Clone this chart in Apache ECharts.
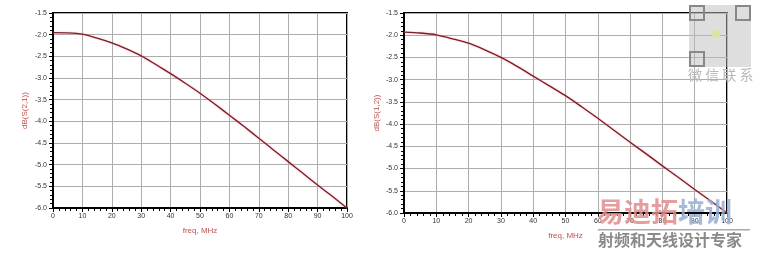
<!DOCTYPE html>
<html>
<head>
<meta charset="utf-8">
<script src="https://cdn.jsdelivr.net/npm/echarts@6/dist/echarts.min.js"></script>
<style>
html,body{margin:0;padding:0;background:#fff;}
#c{width:757px;height:256px;}
</style>
</head>
<body>
<div id="c"></div>
<script>
const freq = [0,5,10,15,20,25,30,35,40,45,50,55,60,65,70,75,80,85,90,95,100];
const s21 = [-1.955,-1.96,-1.99,-2.08,-2.19,-2.33,-2.49,-2.69,-2.90,-3.12,-3.35,-3.60,-3.86,-4.12,-4.39,-4.66,-4.93,-5.20,-5.47,-5.73,-6.0];
const s12 = [-1.93,-1.95,-1.99,-2.08,-2.18,-2.33,-2.50,-2.70,-2.92,-3.14,-3.36,-3.61,-3.87,-4.14,-4.41,-4.67,-4.94,-5.20,-5.47,-5.73,-6.0];
const yTitles = ['dB(S(2,1))','dB(S(1,2))'];
const xTitle = 'freq, MHz';

const font = 'Liberation Sans, Arial, sans-serif';
const lineColor = '#7a1c2c';
const titleColor = '#c0504d';

function xAxis(gi, gap){
  return {
    gridIndex: gi, type:'value', min:0, max:100, interval:10,
    name: xTitle, nameLocation:'middle', nameGap: gap,
    nameTextStyle:{color:titleColor,fontSize:8,fontFamily:font},
    axisLine:{show:true,onZero:false,lineStyle:{color:'#000',width:2}},
    axisTick:{show:true,length:4,lineStyle:{color:'#000',width:1}},
    minorTick:{show:true,splitNumber:5,length:3,lineStyle:{color:'#000',width:1}},
    axisLabel:{fontSize:7,color:'#333',margin:5,fontFamily:font},
    splitLine:{show:true,lineStyle:{color:'#adadad',width:1}}
  };
}
function yAxis(gi, name, gap){
  return {
    gridIndex: gi, type:'value', min:-6, max:-1.5, interval:0.5,
    name: name, nameLocation:'middle', nameGap: gap,
    nameTextStyle:{color:titleColor,fontSize:8,fontFamily:font},
    axisLine:{show:true,onZero:false,lineStyle:{color:'#000',width:2}},
    axisTick:{show:true,length:4,lineStyle:{color:'#000',width:1}},
    minorTick:{show:true,splitNumber:5,length:3,lineStyle:{color:'#000',width:1}},
    axisLabel:{fontSize:7,color:'#333',margin:6,fontFamily:font,formatter:v=>v.toFixed(1)},
    splitLine:{show:true,lineStyle:{color:'#adadad',width:1}}
  };
}
function series(gi, data){
  return {
    type:'line', xAxisIndex:gi, yAxisIndex:gi, smooth:0.25, symbol:'none',
    data: freq.map((f,i)=>[f,data[i]]),
    lineStyle:{color:lineColor,width:1.3,shadowColor:'rgba(255,140,140,0.7)',shadowBlur:2},
    animation:false
  };
}

const chart = echarts.init(document.getElementById('c'), null, {renderer:'canvas'});
chart.setOption({
  animation:false,
  grid:[
    {left:53, top:13, width:294, height:195, show:true, borderColor:'#000', borderWidth:2, backgroundColor:'transparent'},
    {left:404, top:13, width:323, height:200, show:true, borderColor:'#000', borderWidth:2, backgroundColor:'transparent'}
  ],
  xAxis:[xAxis(0,19), xAxis(1,19)],
  yAxis:[yAxis(0,yTitles[0],24), yAxis(1,yTitles[1],23)],
  series:[series(0,s21), series(1,s12)],
  graphic:[
    {type:'rect', shape:{x:689,y:5,width:62,height:62}, style:{fill:'rgba(190,190,190,0.5)'}, z:100},
    {type:'rect', shape:{x:690,y:6,width:14,height:14}, style:{fill:'none',stroke:'#888',lineWidth:2}, z:101},
    {type:'rect', shape:{x:736,y:6,width:14,height:14}, style:{fill:'none',stroke:'#888',lineWidth:2}, z:101},
    {type:'rect', shape:{x:690,y:52,width:14,height:14}, style:{fill:'none',stroke:'#888',lineWidth:2}, z:101},
    {type:'circle', shape:{cx:716,cy:34,r:4}, style:{fill:'#d8e6a0'}, z:101},
    {type:'text', left:688, top:68, style:{text:'微 信 联 系', fill:'#b8b8b8', font:'14px "Noto Sans CJK SC"'}, z:101},
    {type:'text', left:597, top:198, style:{text:'易迪拓', fill:'rgba(226,140,140,0.85)', font:'bold 27px "Noto Sans CJK SC"'}, z:101},
    {type:'text', left:678, top:198, style:{text:'培训', fill:'rgba(150,175,210,0.85)', font:'bold 27px "Noto Sans CJK SC"'}, z:101},
    {type:'rect', shape:{x:598,y:229,width:152,height:1.5}, style:{fill:'#aaa'}, z:101},
    {type:'text', left:598, top:232, style:{text:'射频和天线设计专家', fill:'#8a8a8a', font:'bold 16px "Noto Sans CJK SC"'}, z:101}
  ]
});
</script>
</body>
</html>
